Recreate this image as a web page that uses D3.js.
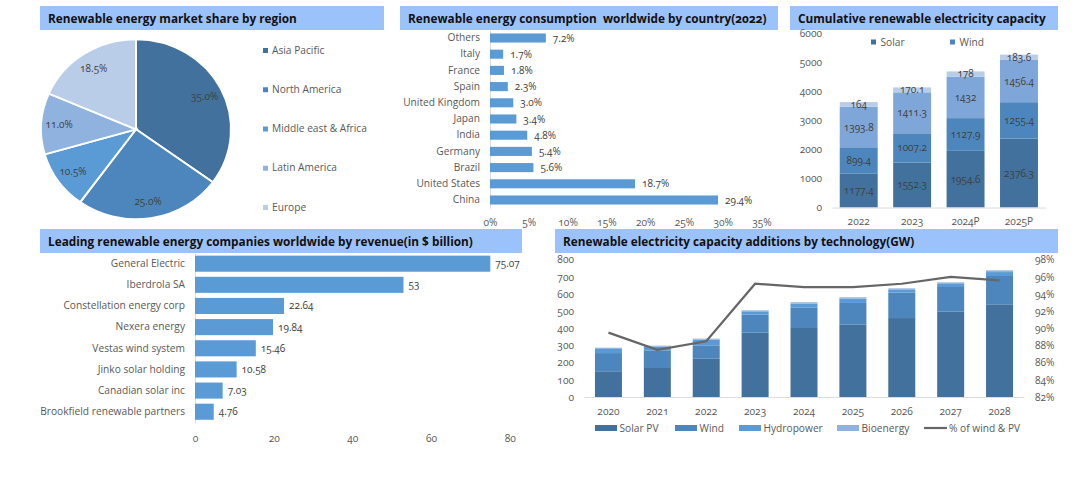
<!DOCTYPE html>
<html>
<head>
<meta charset="utf-8">
<script src="https://d3js.org/d3.v7.min.js"></script>
<style>
  body { margin: 0; background: #fff; }
  text { font-family: "Open Sans", sans-serif; font-variant-numeric: oldstyle-nums; fill: #595959; font-size: 10.2px; }
  .title { font-weight: 700; font-size: 11.8px; fill: #111; }
  .val { fill: #404040; font-size: 10px; }
</style>
</head>
<body>
<svg id="chart" width="1091" height="480"></svg>
<script>
// pie
var regions = ["Asia Pacific", "North America", "Middle east & Africa", "Latin America", "Europe"];
var regionShare = [35.0, 25.0, 10.5, 11.0, 18.5];

// consumption by country
var countries = ["Others", "Italy", "France", "Spain", "United Kingdom", "Japan", "India", "Germany", "Brazil", "United States", "China"];
var countryShare = [7.2, 1.7, 1.8, 2.3, 3.0, 3.4, 4.8, 5.4, 5.6, 18.7, 29.4];
var countryTicks = [0, 5, 10, 15, 20, 25, 30, 35];

// cumulative capacity
var capYears = ["2022", "2023", "2024P", "2025P"];
var capSolar = [1177.4, 1552.3, 1954.6, 2376.3];
var capWind = [899.4, 1007.2, 1127.9, 1255.4];
var capThird = [1393.8, 1411.3, 1432, 1456.4];
var capFourth = [164, 170.1, 178, 183.6];
var capTicks = [0, 1000, 2000, 3000, 4000, 5000, 6000];

// companies
var companies = ["General Electric", "Iberdrola SA", "Constellation energy corp", "Nexera energy", "Vestas wind system", "Jinko solar holding", "Canadian solar inc", "Brookfield renewable partners"];
var revenue = [75.07, 53, 22.64, 19.84, 15.46, 10.58, 7.03, 4.76];
var revenueTicks = [0, 20, 40, 60, 80];

// additions by technology
var addYears = ["2020", "2021", "2022", "2023", "2024", "2025", "2026", "2027", "2028"];
var addSolar = [150, 169, 225, 375, 402, 423, 460, 497, 540];
var addWind = [106, 103, 76, 105, 118, 125, 148, 144, 165];
var addHydro = [24, 21, 33, 19, 24, 25, 19, 21, 23];
var addBio = [7, 6, 6, 6, 8, 8, 6, 6, 10];
var windPvPct = [89.5, 87.5, 88.5, 95.2, 94.8, 94.8, 95.2, 96.0, 95.6];
var addTicks = [0, 100, 200, 300, 400, 500, 600, 700, 800];
var pctTicks = [82, 84, 86, 88, 90, 92, 94, 96, 98];

var DARK = "#41719c", MID = "#4d86bc", BLUE = "#5b9bd5", LIGHT = "#8fb2de", PALE = "#b9cde9";
var svg = d3.select("#chart");

// title bands
var titles = [
  { x: 40, y: 6, w: 344, text: "Renewable energy market share by region" },
  { x: 400, y: 6, w: 378, text: "Renewable energy consumption  worldwide by country(2022)" },
  { x: 790, y: 6, w: 268, text: "Cumulative renewable electricity capacity" },
  { x: 40, y: 229, w: 482, text: "Leading renewable energy companies worldwide by revenue(in $ billion)" },
  { x: 555, y: 229, w: 503, text: "Renewable electricity capacity additions by technology(GW)" }
];
titles.forEach(function(t) {
  svg.append("rect").attr("x", t.x).attr("y", t.y).attr("width", t.w).attr("height", 24).attr("fill", "#9cc2fb");
  svg.append("text").attr("class", "title").attr("x", t.x + 8).attr("y", t.y + 16.5).attr("xml:space", "preserve").text(t.text);
});

function cleanAxis(g) {
  g.select(".domain").attr("stroke", "#dcdcdc");
  g.selectAll(".tick line").remove();
}

// --- pie --- (the reference pie is slightly squashed)
var pieSquash = 90 / 95;
var pieColors = d3.scaleOrdinal().domain(regions).range([DARK, MID, "#5a9ad5", LIGHT, PALE]);
var pieGroup = svg.append("g").attr("transform", "translate(136,129.3)");
var pieData = d3.pie().sort(null)(regionShare);
var arc = d3.arc().innerRadius(0).outerRadius(95);
var labelArc = d3.arc().innerRadius(77).outerRadius(77);
pieGroup.selectAll("path").data(pieData).enter().append("path")
  .attr("d", arc)
  .attr("transform", "scale(1," + pieSquash + ")")
  .attr("fill", function(d, i) { return pieColors(regions[i]); })
  .attr("stroke", "#fff").attr("stroke-width", 2);
pieGroup.selectAll("text").data(pieData).enter().append("text")
  .attr("class", "val")
  .attr("transform", function(d) {
    var c = labelArc.centroid(d);
    return "translate(" + c[0] + "," + c[1] * pieSquash + ")";
  })
  .attr("text-anchor", "middle").attr("dy", "0.35em")
  .text(function(d) { return d.data.toFixed(1) + "%"; });

var legendY = d3.scalePoint().domain(regions).range([50, 207]);
regions.forEach(function(r) {
  svg.append("rect").attr("x", 263).attr("y", legendY(r) - 2).attr("width", 5).attr("height", 5).attr("fill", pieColors(r));
  svg.append("text").attr("x", 272).attr("y", legendY(r)).attr("dy", "0.35em").text(r);
});

// --- country bars ---
var xCountry = d3.scaleLinear().domain([0, 35]).range([490, 761.5]);
var yCountry = d3.scaleBand().domain(countries).range([29.9, 208.1]).paddingInner(0.44).paddingOuter(0.22);
svg.append("g").attr("transform", "translate(490,0)")
  .call(d3.axisLeft(yCountry).tickSize(0).tickPadding(10))
  .call(cleanAxis);
svg.selectAll(".countryBar").data(countries).enter().append("rect")
  .attr("x", xCountry(0))
  .attr("y", function(d) { return yCountry(d); })
  .attr("width", function(d, i) { return xCountry(countryShare[i]) - xCountry(0); })
  .attr("height", yCountry.bandwidth())
  .attr("fill", BLUE);
svg.selectAll(".countryVal").data(countries).enter().append("text")
  .attr("class", "val")
  .attr("x", function(d, i) { return xCountry(countryShare[i]) + 7; })
  .attr("y", function(d) { return yCountry(d) + yCountry.bandwidth() / 2; })
  .attr("dy", "0.35em")
  .text(function(d, i) { return countryShare[i].toFixed(1) + "%"; });
svg.append("g").attr("transform", "translate(0,222)")
  .call(d3.axisBottom(xCountry).tickValues(countryTicks).tickFormat(function(d) { return d + "%"; }).tickSize(0).tickPadding(0))
  .call(function(g) { g.select(".domain").remove(); })
  .selectAll("text").attr("dy", "0.35em").attr("y", 0);

// --- cumulative capacity ---
var xCap = d3.scaleBand().domain(capYears).range([832, 1045.7]).paddingInner(0.29).paddingOuter(0.145);
var yCap = d3.scaleLinear().domain([0, 6000]).range([207.5, 33.5]);
var capSeries = [capSolar, capWind, capThird, capFourth];
var capColors = [DARK, MID, "#7ea6d8", PALE];
var capKeys = ["solar", "wind", "third", "fourth"];
var capRows = capYears.map(function(y, i) {
  var row = { year: y };
  capKeys.forEach(function(k, j) { row[k] = capSeries[j][i]; });
  return row;
});
d3.stack().keys(capKeys)(capRows).forEach(function(layer, j) {
  svg.append("g").selectAll("rect").data(layer).enter().append("rect")
    .attr("x", function(d) { return xCap(d.data.year); })
    .attr("y", function(d) { return yCap(d[1]); })
    .attr("width", xCap.bandwidth())
    .attr("height", function(d) { return yCap(d[0]) - yCap(d[1]); })
    .attr("fill", capColors[j]);
  svg.append("g").selectAll("text").data(layer).enter().append("text")
    .attr("class", "val").attr("text-anchor", "middle").attr("dy", "0.35em")
    .attr("x", function(d) { return xCap(d.data.year) + xCap.bandwidth() / 2; })
    .attr("y", function(d) { return yCap((d[0] + d[1]) / 2); })
    .text(function(d) { return +(d[1] - d[0]).toFixed(1); });
});
svg.append("g").attr("transform", "translate(0,207.5)")
  .call(d3.axisBottom(xCap).tickSize(0).tickPadding(10))
  .call(cleanAxis);
svg.append("g").attr("transform", "translate(822,0)")
  .call(d3.axisLeft(yCap).tickValues(capTicks).tickFormat(d3.format("d")).tickSize(0).tickPadding(0))
  .call(function(g) { g.select(".domain").remove(); });
[["Solar", 871, DARK], ["Wind", 950, MID]].forEach(function(l) {
  svg.append("rect").attr("x", l[1]).attr("y", 39.5).attr("width", 5).attr("height", 5).attr("fill", l[2]);
  svg.append("text").attr("x", l[1] + 9.5).attr("y", 42).attr("dy", "0.35em").text(l[0]);
});

// --- companies ---
var xRev = d3.scaleLinear().domain([0, 80]).range([195, 509.7]);
var yRev = d3.scaleBand().domain(companies).range([253.1, 422.3]).paddingInner(0.24).paddingOuter(0.12);
svg.append("g").attr("transform", "translate(195,0)")
  .call(d3.axisLeft(yRev).tickSize(0).tickPadding(10))
  .call(cleanAxis);
svg.selectAll(".revBar").data(companies).enter().append("rect")
  .attr("x", xRev(0))
  .attr("y", function(d) { return yRev(d); })
  .attr("width", function(d, i) { return xRev(revenue[i]) - xRev(0); })
  .attr("height", yRev.bandwidth())
  .attr("fill", BLUE);
svg.selectAll(".revVal").data(companies).enter().append("text")
  .attr("class", "val")
  .attr("x", function(d, i) { return xRev(revenue[i]) + 5; })
  .attr("y", function(d) { return yRev(d) + yRev.bandwidth() / 2; })
  .attr("dy", "0.35em")
  .text(function(d, i) { return revenue[i]; });
svg.append("g").attr("transform", "translate(0,438)")
  .call(d3.axisBottom(xRev).tickValues(revenueTicks).tickSize(0).tickPadding(0))
  .call(function(g) { g.select(".domain").remove(); })
  .selectAll("text").attr("dy", "0.35em").attr("y", 0);

// --- additions ---
var xAdd = d3.scaleBand().domain(addYears).range([584, 1024]).paddingInner(0.448).paddingOuter(0.224);
var yAdd = d3.scaleLinear().domain([0, 800]).range([397, 259.7]);
var yPct = d3.scaleLinear().domain([82, 98]).range([397, 259.7]);
var addKeys = ["solar", "wind", "hydro", "bio"];
var addSeries = [addSolar, addWind, addHydro, addBio];
var addColors = [DARK, MID, "#5a9ad5", LIGHT];
var addRows = addYears.map(function(y, i) {
  var row = { year: y };
  addKeys.forEach(function(k, j) { row[k] = addSeries[j][i]; });
  return row;
});
d3.stack().keys(addKeys)(addRows).forEach(function(layer, j) {
  svg.append("g").selectAll("rect").data(layer).enter().append("rect")
    .attr("x", function(d) { return xAdd(d.data.year); })
    .attr("y", function(d) { return yAdd(d[1]); })
    .attr("width", xAdd.bandwidth())
    .attr("height", function(d) { return yAdd(d[0]) - yAdd(d[1]); })
    .attr("fill", addColors[j]);
});
svg.append("g").attr("transform", "translate(0,397)")
  .call(d3.axisBottom(xAdd).tickSize(0).tickPadding(11))
  .call(cleanAxis);
svg.append("g").attr("transform", "translate(574,0)")
  .call(d3.axisLeft(yAdd).tickValues(addTicks).tickSize(0).tickPadding(0))
  .call(function(g) { g.select(".domain").remove(); });
svg.append("g").attr("transform", "translate(1035,0)")
  .call(d3.axisRight(yPct).tickValues(pctTicks).tickFormat(function(d) { return d + "%"; }).tickSize(0).tickPadding(0))
  .call(function(g) { g.select(".domain").remove(); });
var pctLine = d3.line()
  .x(function(d, i) { return xAdd(addYears[i]) + xAdd.bandwidth() / 2; })
  .y(function(d) { return yPct(d); });
svg.append("path").datum(windPvPct).attr("d", pctLine)
  .attr("fill", "none").attr("stroke", "#666").attr("stroke-width", 2.2);

// legend for additions
[["Solar PV", 595, DARK], ["Wind", 675, MID], ["Hydropower", 739, "#5a9ad5"], ["Bioenergy", 837, LIGHT]].forEach(function(l) {
  svg.append("rect").attr("x", l[1]).attr("y", 425).attr("width", 22).attr("height", 6).attr("fill", l[2]);
  svg.append("text").attr("x", l[1] + 24.5).attr("y", 428).attr("dy", "0.35em").text(l[0]);
});
svg.append("line").attr("x1", 924).attr("x2", 947).attr("y1", 428).attr("y2", 428).attr("stroke", "#666").attr("stroke-width", 2.2);
svg.append("text").attr("x", 949).attr("y", 428).attr("dy", "0.35em").text("% of wind & PV");
</script>
</body>
</html>
